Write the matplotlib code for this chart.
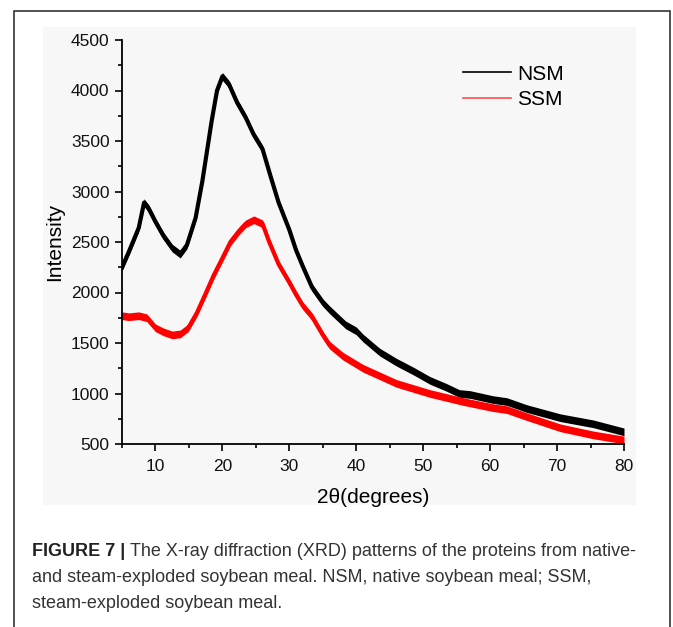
import matplotlib.pyplot as plt
from matplotlib.patches import Rectangle
import numpy as np

# NSM (native soybean meal) pattern, read as the middle of the noisy trace
nsm_theta = [5, 6, 7.5, 8.3, 9, 10, 11.2, 12.5, 13.7, 14.7, 16, 17, 17.7, 18.4,
             19.2, 20, 21, 22.2, 23.5, 24.7, 26, 27.2, 28.4, 30, 31, 32, 33.4,
             35, 36, 38.4, 40, 41, 43.5, 46, 48.6, 51, 53.5, 55.4, 57, 60.4,
             62.5, 65.5, 70.5, 75.4, 80]
nsm_int = [2250, 2400, 2640, 2890, 2830, 2700, 2560, 2440, 2380, 2470, 2740,
           3100, 3400, 3700, 4000, 4140, 4060, 3880, 3730, 3560, 3420, 3150,
           2890, 2620, 2420, 2260, 2050, 1900, 1830, 1680, 1620, 1550, 1410,
           1310, 1220, 1130, 1060, 1000, 990, 940, 920, 850, 760, 700, 620]

# SSM (steam-exploded soybean meal) pattern
ssm_theta = [5, 6, 7.5, 8.7, 10, 11.2, 12.5, 13.7, 14.9, 16.2, 17.5, 18.7, 20,
             21.2, 22.5, 23.5, 24.7, 26, 27, 28.4, 30, 31, 32, 33.4, 35, 36,
             38, 41, 46, 51, 56, 60.4, 62.5, 65.5, 70.5, 75.4, 80]
ssm_int = [1770, 1760, 1770, 1750, 1650, 1610, 1580, 1590, 1650, 1800, 1990,
           2170, 2340, 2500, 2610, 2680, 2720, 2680, 2500, 2280, 2100, 1980,
           1870, 1760, 1580, 1480, 1370, 1250, 1100, 1000, 920, 860, 840, 770,
           660, 590, 540]

# half height of the counting noise around each trace
nsm_noise = 38
ssm_noise = 38

xticks = [10, 20, 30, 40, 50, 60, 70, 80]
yticks = [500, 1000, 1500, 2000, 2500, 3000, 3500, 4000, 4500]

caption_head = 'FIGURE 7 |'
caption_lines = ['The X-ray diffraction (XRD) patterns of the proteins from native-',
                 'and steam-exploded soybean meal. NSM, native soybean meal; SSM,',
                 'steam-exploded soybean meal.']

plt.rcParams['font.family'] = ['Liberation Sans', 'DejaVu Sans']

fig = plt.figure(figsize=(6.73, 6.27), dpi=100)
W, H = 673, 627

# page frame and the light panel behind the plot
fig.patches.append(Rectangle((14 / W, -0.01), (670 - 14) / W, 1 - 11 / H + 0.01,
                             transform=fig.transFigure, fill=False,
                             edgecolor='#333333', linewidth=1.2, zorder=-10))
fig.patches.append(Rectangle((43 / W, 1 - 505 / H), (636 - 43) / W, (505 - 27) / H,
                             transform=fig.transFigure, facecolor='#f7f7f7',
                             edgecolor='none', zorder=-11))

ax = fig.add_axes([122 / W, 1 - 444 / H, (624 - 122) / W, (444 - 40) / H])
ax.patch.set_alpha(0)

nx = np.array(nsm_theta)
ny = np.array(nsm_int)
sx = np.array(ssm_theta)
sy = np.array(ssm_int)

ax.fill_between(nx, ny - nsm_noise, ny + nsm_noise, color='black', linewidth=0)
ax.plot(nx, ny, color='black', linewidth=3)
ax.fill_between(sx, sy - ssm_noise, sy + ssm_noise, color='red', linewidth=0)
ax.plot(sx, sy, color='red', linewidth=3)

ax.set_xlim(5, 80)
ax.set_ylim(500, 4500)
ax.set_xticks(xticks)
ax.set_yticks(yticks)
ax.set_xticks(np.arange(5, 81, 10), minor=True)
ax.set_yticks(np.arange(750, 4500, 500), minor=True)

for s in ['top', 'right']:
    ax.spines[s].set_visible(False)
for s in ['left', 'bottom']:
    ax.spines[s].set_linewidth(1.3)

ax.tick_params(which='major', direction='out', length=5, width=1.2,
               labelsize=12.5, pad=4, labelcolor='#111111')
ax.tick_params(axis='x', which='major', pad=6)
ax.tick_params(which='minor', direction='out', length=3, width=1.2)

ax.set_xlabel('2θ(degrees)', fontsize=15, labelpad=10)
ax.set_ylabel('Intensity', fontsize=15, labelpad=5)

ax.legend([plt.Line2D([], [], color='black', linewidth=1.2),
           plt.Line2D([], [], color='#ff5050', linewidth=1.2)],
          ['NSM', 'SSM'], loc='upper left',
          bbox_to_anchor=(444 / W, 1 - 46 / H),
          bbox_transform=fig.transFigure, frameon=False,
          fontsize=15, handlelength=2.3, handletextpad=0.3,
          labelspacing=0.3)

# caption under the figure: bold head, then the text on the same line
cap_y = [551, 577, 603]
head = fig.text(32 / W, 1 - cap_y[0] / H, caption_head, fontsize=13,
                fontweight='bold', va='center', color='#222222')
fig.canvas.draw()
head_right = head.get_window_extent().x1
fig.text(head_right / W + 5 / W, 1 - cap_y[0] / H, caption_lines[0],
         fontsize=13, va='center', color='#333333')
for line, y in zip(caption_lines[1:], cap_y[1:]):
    fig.text(32 / W, 1 - y / H, line, fontsize=13, va='center',
             color='#333333')

fig.savefig('out.png', dpi=100)
